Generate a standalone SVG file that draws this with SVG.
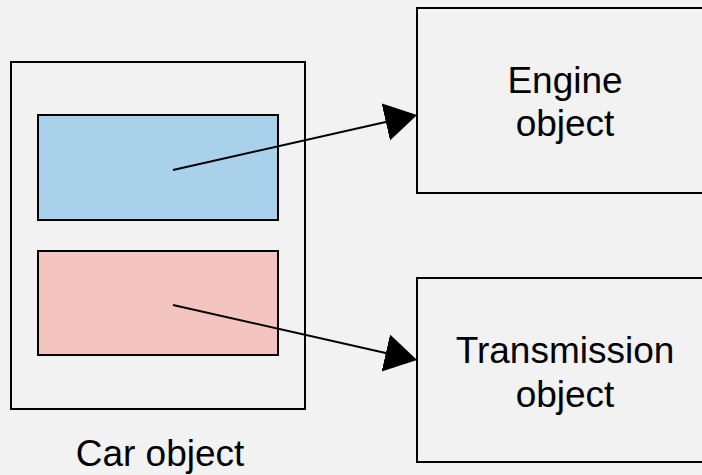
<svg xmlns="http://www.w3.org/2000/svg" width="702" height="475" viewBox="0 0 702 475">
  <style>
    .box { fill: #f2f2f2; stroke: #000; stroke-width: 2; }
    .lbl { font-family: "Liberation Sans", Arial, sans-serif; font-size: 37px; fill: #000; text-anchor: middle; }
    .conn { stroke: #000; stroke-width: 2; fill: none; marker-end: url(#arrow); }
  </style>
  <defs>
    <marker id="arrow" markerUnits="userSpaceOnUse" markerWidth="34" markerHeight="40" refX="1" refY="19" orient="auto" viewBox="0 0 34 40">
      <path d="M0,0 L32,19 L0,38 Z" fill="#000"/>
    </marker>
  </defs>
  <rect width="702" height="475" fill="#f2f2f2"/>
  <g id="car">
    <rect class="box" x="11" y="62" width="294" height="347"/>
    <text class="lbl" x="160" y="466">Car object</text>
  </g>
  <g id="engine-field">
    <rect x="38" y="115" width="240" height="105" fill="#a9d1eb" stroke="#000" stroke-width="2"/>
  </g>
  <g id="transmission-field">
    <rect x="38" y="251" width="240" height="104" fill="#f3c4c0" stroke="#000" stroke-width="2"/>
  </g>
  <g id="engine">
    <rect class="box" x="417" y="8" width="296" height="185"/>
    <text class="lbl" x="565" y="93">Engine</text>
    <text class="lbl" x="565" y="136">object</text>
  </g>
  <g id="transmission">
    <rect class="box" x="417" y="278" width="296" height="184"/>
    <text class="lbl" x="565" y="363">Transmission</text>
    <text class="lbl" x="565" y="407">object</text>
  </g>
  <g id="connectors">
    <line class="conn" x1="173" y1="170" x2="386.8" y2="121.8"/>
    <line class="conn" x1="173" y1="305" x2="386.8" y2="353.2"/>
  </g>
</svg>
